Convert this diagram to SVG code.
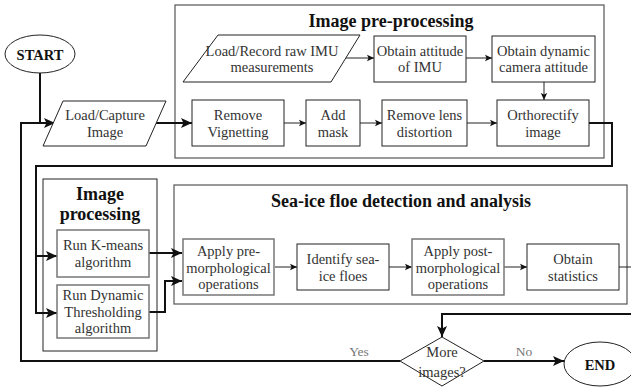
<svg xmlns="http://www.w3.org/2000/svg" width="631" height="388" viewBox="0 0 631 388" font-family="'Liberation Serif', 'Times New Roman', 'DejaVu Serif', serif">
<style>
text{font-family:'Liberation Serif','Times New Roman','DejaVu Serif',serif;fill:#333;text-anchor:middle}
.t{font-size:14.5px}
.h{font-size:18px;font-weight:bold;fill:#111}
.term{font-size:14.5px;font-weight:bold;fill:#111}
.lbl{font-size:13.5px;fill:#777}
.box{fill:#fff;stroke:#222;stroke-width:1}
.gbox{fill:#fff;stroke:#777;stroke-width:1.5}
.cont{fill:none;stroke:#555;stroke-width:1.2}
.cont2{fill:none;stroke:#222;stroke-width:1}
.thin{fill:none;stroke:#222;stroke-width:1}
.thick{fill:none;stroke:#111;stroke-width:2}
</style>
<defs>
<marker id="as" markerUnits="userSpaceOnUse" markerWidth="8" markerHeight="8" refX="7" refY="4" orient="auto">
<path d="M0,0.8 L7,4 L0,7.2 L1.5,4 Z" fill="#111"/>
</marker>
<marker id="al" markerUnits="userSpaceOnUse" markerWidth="12" markerHeight="12" refX="11" refY="6" orient="auto">
<path d="M0,1 L11,6 L0,11 L2.5,6 Z" fill="#111"/>
</marker>
</defs>
<rect width="631" height="388" fill="#fff"/>

<g id="containers">
<rect id="c-pre" class="cont" x="175" y="5" width="429" height="153"/>
<text class="h" x="391" y="27">Image pre-processing</text>
<rect id="c-proc" class="cont2" x="43" y="179" width="114" height="172"/>
<text class="h" x="100" y="200">Image</text>
<text class="h" x="100" y="220">processing</text>
<rect id="c-sea" class="cont" x="174" y="185" width="453" height="119"/>
<text class="h" x="401" y="207">Sea-ice floe detection and analysis</text>
</g>

<g id="connectors">
<path class="thick" d="M40,73 V123 H55" marker-end="url(#al)"/>
<path class="thick" d="M400,361 H21 V123 H42"/>
<path class="thick" d="M156,123 H192" marker-end="url(#al)"/>
<path class="thin" d="M346,58 H374" marker-end="url(#as)"/>
<path class="thin" d="M466,58 H492" marker-end="url(#as)"/>
<path class="thin" d="M544,82 V100" marker-end="url(#as)"/>
<path class="thin" d="M284,123 H306" marker-end="url(#as)"/>
<path class="thin" d="M360,123 H382" marker-end="url(#as)"/>
<path class="thin" d="M467,123 H497" marker-end="url(#as)"/>
<path class="thick" d="M589,123 H612 V166 H36 V313 H57" marker-end="url(#al)"/>
<path class="thick" d="M36,256 H57" marker-end="url(#al)"/>
<path class="thick" d="M149,253 H182" marker-end="url(#al)"/>
<path class="thick" d="M149,312 H165 V281 H182" marker-end="url(#al)"/>
<path class="thin" d="M275,267 H297" marker-end="url(#as)"/>
<path class="thin" d="M389,267 H412" marker-end="url(#as)"/>
<path class="thin" d="M504,267 H527" marker-end="url(#as)"/>
<path class="thin" d="M619,267 H631"/>
<path class="thick" d="M631,314 H442 V337" marker-end="url(#al)"/>
<path class="thick" d="M484,361 H564" marker-end="url(#al)"/>
<text class="lbl" x="359" y="356">Yes</text>
<text class="lbl" x="524" y="356">No</text>
</g>

<g id="start">
<ellipse cx="40" cy="54" rx="35" ry="19" fill="#fff" stroke="#222" stroke-width="1"/>
<text class="term" x="40" y="59.5">START</text>
</g>
<g id="load-capture">
<polygon class="box" points="63,101 166,101 146,146 43,146"/>
<text class="t" x="105" y="120">Load/Capture</text>
<text class="t" x="105" y="136.5">Image</text>
</g>
<g id="load-imu">
<polygon class="box" points="218,35 360,35 331,82 183,82"/>
<text class="t" x="272" y="55.5">Load/Record raw IMU</text>
<text class="t" x="272" y="72">measurements</text>
</g>
<g id="attitude-imu">
<rect class="box" x="374" y="36" width="92" height="46"/>
<text class="t" x="420" y="55.5">Obtain attitude</text>
<text class="t" x="420" y="72">of IMU</text>
</g>
<g id="camera-attitude">
<rect class="box" x="492" y="36" width="103" height="46"/>
<text class="t" x="543.5" y="55.5">Obtain dynamic</text>
<text class="t" x="543.5" y="72">camera attitude</text>
</g>
<g id="vignetting">
<rect class="box" x="192" y="100" width="92" height="46"/>
<text class="t" x="238" y="120">Remove</text>
<text class="t" x="238" y="136.5">Vignetting</text>
</g>
<g id="mask">
<rect class="box" x="306" y="100" width="54" height="46"/>
<text class="t" x="333" y="120">Add</text>
<text class="t" x="333" y="136.5">mask</text>
</g>
<g id="lens">
<rect class="box" x="382" y="100" width="85" height="46"/>
<text class="t" x="424.5" y="120">Remove lens</text>
<text class="t" x="424.5" y="136.5">distortion</text>
</g>
<g id="ortho">
<rect class="box" x="497" y="100" width="92" height="46"/>
<text class="t" x="543" y="120">Orthorectify</text>
<text class="t" x="543" y="136.5">image</text>
</g>
<g id="kmeans">
<rect class="gbox" x="57" y="230" width="92" height="47"/>
<text class="t" x="103" y="250">Run K-means</text>
<text class="t" x="103" y="266.5">algorithm</text>
</g>
<g id="dynamic">
<rect class="gbox" x="57" y="285" width="92" height="53"/>
<text class="t" x="103" y="300">Run Dynamic</text>
<text class="t" x="103" y="316.5">Thresholding</text>
<text class="t" x="103" y="333">algorithm</text>
</g>
<g id="pre-morph">
<rect class="gbox" x="183" y="239" width="91" height="56"/>
<text class="t" x="228.5" y="256">Apply pre-</text>
<text class="t" x="228.5" y="272.5">morphological</text>
<text class="t" x="228.5" y="289">operations</text>
</g>
<g id="identify">
<rect class="box" x="297" y="244" width="92" height="46"/>
<text class="t" x="343" y="264">Identify sea-</text>
<text class="t" x="343" y="280.5">ice floes</text>
</g>
<g id="post-morph">
<rect class="gbox" x="412" y="239" width="92" height="56"/>
<text class="t" x="458" y="256">Apply post-</text>
<text class="t" x="458" y="272.5">morphological</text>
<text class="t" x="458" y="289">operations</text>
</g>
<g id="statistics">
<rect class="box" x="527" y="244" width="92" height="46"/>
<text class="t" x="573" y="264">Obtain</text>
<text class="t" x="573" y="280.5">statistics</text>
</g>
<g id="decision">
<polygon points="442,337 484,361 442,386 400,361" fill="#fff" stroke="#222" stroke-width="1"/>
<text class="t" x="442" y="357">More</text>
<text class="t" x="442" y="377">images?</text>
</g>
<g id="end">
<ellipse cx="600" cy="364" rx="36" ry="22" fill="#fff" stroke="#222" stroke-width="1"/>
<text class="term" x="600" y="369.5">END</text>
</g>
</svg>
